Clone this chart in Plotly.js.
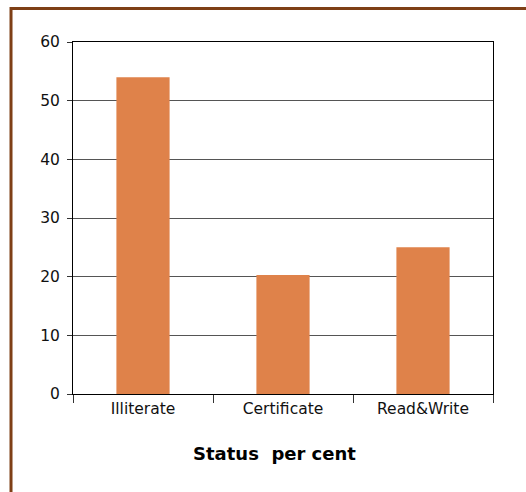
<!DOCTYPE html>
<html>
<head>
<meta charset="utf-8">
<script src="https://cdn.plot.ly/plotly-3.0.1.min.js"></script>
<style>
  html, body { margin: 0; padding: 0; background: #ffffff; }
  #chart { width: 526px; height: 492px; }
</style>
</head>
<body>
<div id="chart"></div>
<script>
// Literacy status, per cent of respondents
const categories = ["Illiterate", "Certificate", "Read&Write"];
const percents = [54, 20.3, 25];
const yTicks = [0, 10, 20, 30, 40, 50, 60];
const axisTitle = "Status\u00a0\u00a0per cent";

const font = "DejaVu Sans, Verdana, sans-serif";

const trace = {
  type: "bar",
  x: categories,
  y: percents,
  marker: { color: "#DF824A", line: { width: 0 } },
  hoverinfo: "x+y"
};

const layout = {
  width: 526,
  height: 492,
  margin: { l: 73, r: 33, t: 42, b: 98, pad: 0 },
  paper_bgcolor: "#ffffff",
  plot_bgcolor: "#ffffff",
  font: { family: font, size: 15.5, color: "#111111" },
  bargap: 0.62,
  showlegend: false,
  xaxis: {
    type: "category",
    showgrid: false,
    showline: true,
    linecolor: "#000000",
    linewidth: 1,
    mirror: true,
    ticks: "outside",
    tickson: "boundaries",
    ticklen: 8,
    tickcolor: "#333333",
    tickfont: { family: font, size: 15.5, color: "#111111" },
    zeroline: false
  },
  yaxis: {
    range: [0, 60],
    tickmode: "array",
    tickvals: yTicks,
    ticktext: yTicks.map(String),
    showgrid: true,
    gridcolor: "#555555",
    gridwidth: 1,
    showline: true,
    linecolor: "#000000",
    linewidth: 1,
    mirror: true,
    ticks: "outside",
    ticklen: 5,
    tickcolor: "#333333",
    ticklabelstandoff: 4,
    tickfont: { family: font, size: 15.5, color: "#111111" },
    zeroline: false
  },
  annotations: [{
    text: "<b>" + axisTitle + "</b>",
    xref: "paper", yref: "paper",
    x: 0.479, y: -0.168,
    xanchor: "center", yanchor: "middle",
    showarrow: false,
    font: { family: font, size: 18, color: "#000000" }
  }],
  shapes: [{
    // brown frame around the whole chart
    type: "rect",
    xref: "paper", yref: "paper",
    x0: -0.1476, x1: 1.15,
    y0: -0.40, y1: 1.0952,
    line: { color: "#7E3F16", width: 3 },
    layer: "below"
  }]
};

Plotly.newPlot("chart", [trace], layout, { displayModeBar: false, staticPlot: true });
</script>
</body>
</html>
